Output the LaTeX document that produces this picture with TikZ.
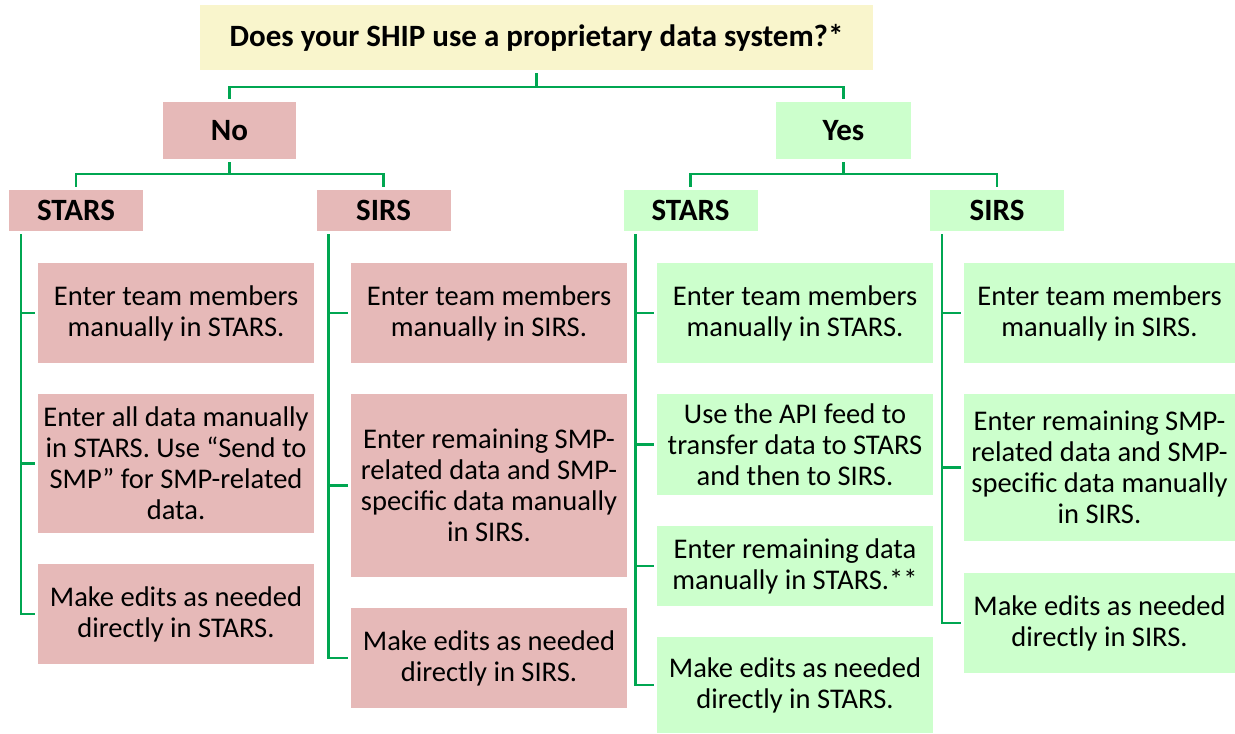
\documentclass[tikz,border=0pt]{standalone}
\usepackage{fontspec}
\setmainfont{Carlito}
\usetikzlibrary{positioning}

\definecolor{nofill}{HTML}{E6B9B8}
\definecolor{yesfill}{HTML}{CCFFCC}
\definecolor{qfill}{HTML}{F9F5CC}
\definecolor{linkgreen}{HTML}{00A651}

\begin{document}
\begin{tikzpicture}[x=1pt,y=-1pt,
        box/.style={inner sep=0pt,align=center,minimum width=276pt,
            font=\fontsize{28.5}{31}\selectfont},
        no box/.style={box,fill=nofill},
        yes box/.style={box,fill=yesfill},
        head/.style={inner sep=0pt,minimum width=134pt,minimum height=41pt,
            font=\fontsize{31}{34}\selectfont\bfseries},
        link/.style={draw=linkgreen,line width=2.5pt},
        feed/.style={link,shorten <=3pt,shorten >=3pt}]
        \useasboundingbox (0,0) rectangle (1235,734);

        % question and answers
        \node[head,fill=qfill,minimum width=673pt,minimum height=65pt] (q) at (536.5,37.5) {Does your SHIP use a proprietary data system?*};
        \node[head,fill=nofill,minimum width=133pt,minimum height=57pt] (no) at (229.5,130.5) {No};
        \node[head,fill=yesfill,minimum width=135pt,minimum height=57pt] (yes) at (843.5,130.5) {Yes};

        % systems
        \node[head,fill=nofill] (nstars) at (76,210.5) {STARS};
        \node[head,fill=nofill] (nsirs) at (383.5,210.5) {SIRS};
        \node[head,fill=yesfill] (ystars) at (690.5,210.5) {STARS};
        \node[head,fill=yesfill] (ysirs) at (997,210.5) {SIRS};

        % no / stars
        \node[no box,minimum height=100pt] (ns1) at (176,313) {Enter team members\\manually in STARS.};
        \node[no box,minimum height=139pt] (ns2) at (176,463.5) {Enter all data manually\\in STARS. Use “Send to\\SMP” for SMP-related\\data.};
        \node[no box,minimum height=100pt] (ns3) at (176,614) {Make edits as needed\\directly in STARS.};
        % no / sirs
        \node[no box,minimum height=100pt] (nr1) at (489,313) {Enter team members\\manually in SIRS.};
        \node[no box,minimum height=183pt] (nr2) at (489,485.5) {Enter remaining SMP-\\related data and SMP-\\specific data manually\\in SIRS.};
        \node[no box,minimum height=100pt] (nr3) at (489,658) {Make edits as needed\\directly in SIRS.};
        % yes / stars
        \node[yes box,minimum height=100pt] (ys1) at (795,313) {Enter team members\\manually in STARS.};
        \node[yes box,minimum height=101pt] (ys2) at (795,444.5) {Use the API feed to\\transfer data to STARS\\and then to SIRS.};
        \node[yes box,minimum height=80pt] (ys3) at (795,566) {Enter remaining data\\manually in STARS.**};
        \node[yes box,minimum height=96pt] (ys4) at (795,685) {Make edits as needed\\directly in STARS.};
        % yes / sirs
        \node[yes box,minimum width=271pt,minimum height=100pt] (yr1) at (1099.5,313) {Enter team members\\manually in SIRS.};
        \node[yes box,minimum width=271pt,minimum height=147pt] (yr2) at (1099.5,467.5) {Enter remaining SMP-\\related data and SMP-\\specific data manually\\in SIRS.};
        \node[yes box,minimum width=271pt,minimum height=100pt] (yr3) at (1099.5,623) {Make edits as needed\\directly in SIRS.};

        % tree connectors
        \foreach \s/\t in {no/yes, yes/yes} {
        \path[feed] (q.south) -- ++(0,17) -| (\s.north);}
        \foreach \s/\t in {no/nstars, no/nsirs, yes/ystars, yes/ysirs} {
        \path[feed] (\s.south) -- ++(0,15) -| (\t.north);}

        % spines
        \foreach \h/\l in {nstars/ns3, nsirs/nr3, ystars/ys4, ysirs/yr3} {
        \coordinate (\h-sp) at ([xshift=12pt]\h.south west);
        \path[feed] (\h-sp) |- (\l.west);}
        \foreach \h/\b in {nstars/ns1, nstars/ns2, nsirs/nr1, nsirs/nr2,
            ystars/ys1, ystars/ys2, ystars/ys3, ysirs/yr1, ysirs/yr2} {
        \path[link,shorten >=3pt] (\h-sp |- \b.west) -- (\b.west);}
\end{tikzpicture}
\end{document}
